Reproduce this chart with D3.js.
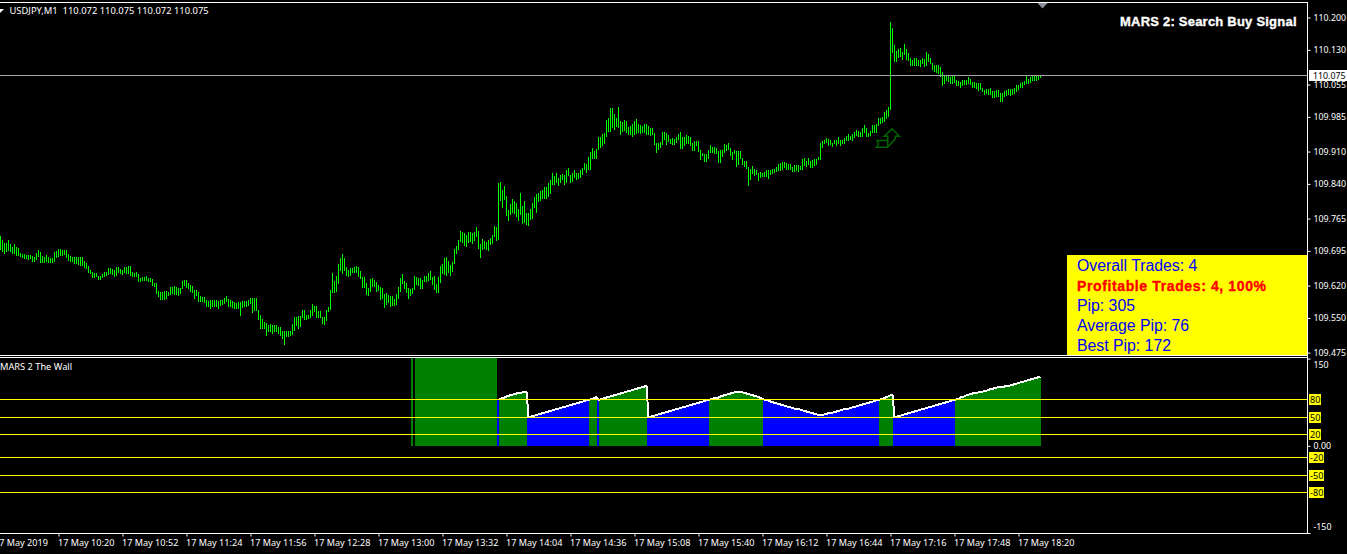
<!DOCTYPE html>
<html><head><meta charset="utf-8">
<script src="https://d3js.org/d3.v7.min.js"></script>
<style>
html,body{margin:0;padding:0;background:#000;overflow:hidden}
svg{display:block}
text{font-family:"Noto Sans",sans-serif;font-size:9.1px;fill:#fff}
.price text{font-size:8.8px}
</style></head><body>
<svg id="c" width="1347" height="554"></svg>
<script>
// Bar highs and lows, in thousandths of a yen above 109, one per minute
const highs=[727,719,713,713,719,710,704,710,703,701,691,689,689,686,686,686,683,681,690,697,692,683,681,686,681,679,679,692,694,699,699,697,697,697,688,684,681,681,681,681,681,681,674,668,663,654,650,647,648,641,641,645,650,650,658,658,655,654,661,661,655,654,661,661,663,663,650,648,650,645,636,638,638,640,637,636,634,625,625,609,607,607,609,609,607,618,618,619,616,614,614,629,632,632,625,622,619,611,611,607,598,595,595,589,586,588,588,589,589,586,589,589,593,598,591,589,586,584,582,584,584,586,587,587,589,593,594,594,593,568,557,548,542,539,535,537,535,535,534,530,530,521,521,521,521,521,537,553,553,555,555,568,568,557,557,568,581,576,576,564,564,553,553,568,573,611,647,629,640,667,679,689,679,661,654,
659,659,661,662,660,651,639,638,626,615,634,636,631,628,621,618,615,601,604,600,598,597,592,602,617,636,645,630,625,615,612,615,641,638,636,636,632,641,641,647,651,638,641,623,638,662,667,680,682,673,664,671,699,706,719,738,736,734,729,736,736,734,736,747,738,710,721,716,714,719,723,729,749,747,842,844,827,835,814,783,796,807,803,799,786,820,792,803,777,777,786,799,812,818,820,825,827,833,833,842,848,863,857,863,853,859,861,859,870,874,859,863,870,863,863,870,874,
886,883,899,910,918,912,915,942,942,948,951,978,982,1004,1004,991,982,1007,976,974,978,976,964,965,969,976,980,969,967,966,969,969,966,962,962,951,929,929,931,953,953,951,946,938,940,938,942,949,953,942,942,946,944,942,929,933,933,933,913,906,905,905,913,924,920,919,917,912,913,913,926,924,928,917,910,913,911,911,912,895,890,890,876,872,879,873,871,863,866,864,866,870,870,870,872,872,877,884,886,887,887,886,883,883,877,881,881,881,879,893,897,889,895,889,892,894,894,899,929,933,935,939,938,936,929,936,936,942,
935,936,939,944,948,944,947,952,957,955,953,962,968,962,951,955,968,968,969,983,982,984,996,1000,1007,1190,1177,1141,1128,1132,1134,1126,1143,1132,1124,1112,1108,1112,1112,1108,1108,1112,1110,1126,1121,1112,1101,1097,1097,1097,1092,1083,1074,1074,1074,1071,1076,1076,1065,1063,1061,1065,1065,1065,1071,1066,1061,1061,1058,1058,1058,1047,1043,1045,1045,1047,1042,1040,1043,1043,1036,1036,1042,1043,1045,1045,1045,1048,1054,1054,1058,1060,1063,1074,1068,1071,1074,1074,1074,1074,1075];
const lows=[699,694,690,694,697,694,690,690,686,686,683,681,679,679,677,679,674,673,677,683,672,672,672,674,672,672,672,674,681,685,686,686,688,681,676,674,673,668,668,666,665,665,661,658,650,647,638,638,640,634,635,638,640,643,645,647,645,640,643,650,647,645,650,648,647,643,641,640,641,629,629,631,631,631,630,629,622,620,605,598,590,590,591,593,600,602,605,602,602,600,604,614,622,618,614,609,607,593,600,586,586,586,584,576,575,571,575,576,575,571,578,581,582,586,576,576,573,571,571,571,557,573,576,575,578,582,562,568,568,547,528,528,528,514,521,521,517,521,521,517,514,506,494,510,511,514,516,523,535,528,532,553,547,547,550,553,557,564,552,553,551,539,537,546,564,569,607,607,609,625,654,647,654,643,641,
643,649,650,650,641,637,616,618,602,600,609,619,619,609,610,591,594,574,580,585,576,578,579,580,593,609,625,614,606,593,600,604,612,623,621,615,615,630,630,632,634,623,612,606,606,628,647,645,643,649,643,651,669,690,699,716,714,708,706,714,716,712,719,727,701,682,699,701,699,697,710,712,727,719,721,805,790,807,773,762,775,779,777,770,762,775,755,757,753,751,764,766,790,779,803,805,809,809,809,814,820,840,840,844,838,844,851,840,844,859,844,846,855,851,853,855,861,
873,866,873,873,895,895,895,915,920,924,928,943,955,955,964,959,965,964,948,955,956,953,948,949,943,949,951,953,951,953,953,948,949,946,948,926,909,915,919,926,938,926,933,928,926,926,931,937,918,918,924,928,929,924,913,913,924,911,894,902,889,889,897,910,910,906,906,888,888,901,908,913,915,902,894,906,879,882,895,883,879,875,837,850,863,859,861,848,855,857,857,857,853,861,864,866,868,870,871,873,876,873,873,873,868,868,870,868,873,873,881,879,884,876,877,881,884,893,894,920,928,931,924,926,922,928,925,928,
924,928,929,934,936,938,936,942,946,944,944,944,953,944,944,946,952,952,953,968,971,973,977,982,986,1001,1126,1105,1105,1115,1117,1110,1121,1110,1108,1097,1097,1097,1097,1097,1095,1101,1094,1097,1105,1101,1089,1085,1083,1081,1074,1054,1058,1065,1063,1059,1059,1061,1054,1054,1050,1054,1056,1056,1058,1056,1049,1049,1047,1043,1045,1040,1035,1036,1034,1034,1029,1029,1031,1030,1019,1019,1030,1032,1034,1032,1034,1036,1042,1045,1050,1050,1056,1059,1059,1061,1065,1065,1065,1066,1071];

const priceTicks=[110.200,110.130,110.055,109.985,109.910,109.840,109.765,109.695,109.620,109.550,109.475];
const currentPrice=110.075;
const headerText="USDJPY,M1  110.072 110.075 110.072 110.075";
const titleText="MARS 2: Search Buy Signal";
const paneTitle="MARS 2 The Wall";
const statLines=["Overall Trades: 4","Profitable Trades: 4, 100%","Pip: 305","Average Pip: 76","Best Pip: 172"];

// "The Wall" indicator, first value belongs to bar 206; values above 150 run off the pane
const wallStart=206;
const wall=[220,null,220,220,220,220,220,220,220,220,220,220,220,220,220,220,220,220,220,220,220,220,220,220,220,220,220,220,220,220,220,220,220,220,220,220,220,220,220,220,220,220,220,
79,81,82,83,85,86,87,88,89,90,91,91,92,93,93,
50,50,51,52,53,54,55,56,57,58,59,60,61,62,63,64,65,66,67,68,69,70,71,72,73,74,75,76,77,78,79,
80,81,82,84,79,
80,81,82,83,84,85,86,87,88,89,90,91,92,93,94,95,96,97,98,99,100,101,102,103,
50,50,51,52,53,54,55,56,57,58,59,60,61,62,63,64,65,66,67,68,69,70,71,72,73,74,75,76,77,78,79,
80,81,82,82,83,85,86,87,88,89,90,91,92,93,93,93,92,91,90,89,88,87,86,85,84,82,81,
79,78,78,76,75,74,73,72,71,70,69,68,67,66,65,64,64,63,62,61,60,59,58,57,56,55,54,53,53,53,54,55,56,57,57,58,59,60,61,62,63,63,64,65,66,67,68,69,70,71,72,73,74,75,76,77,78,79,
80,81,82,84,85,87,87,
50,50,51,52,53,54,55,56,57,58,59,60,61,62,63,64,65,66,67,68,69,70,71,72,73,74,75,76,77,78,79,
80,81,83,84,85,87,88,89,90,90,91,92,93,93,94,95,96,98,98,99,100,101,102,102,102,103,103,104,105,106,107,108,109,110,111,112,113,114,115,116,117,118,119];
const levels=[80,50,20,-20,-50,-80];
const wallThreshold=80;

// time axis: bar index of each label
const timeTickBars=[-3,29,61,93,125,157,189,221,253,285,317,349,381,413,445,477,509];
const timeLabels=["17 May 2019","17 May 10:20","17 May 10:52","17 May 11:24","17 May 11:56","17 May 12:28","17 May 13:00","17 May 13:32","17 May 14:04","17 May 14:36","17 May 15:08","17 May 15:40","17 May 16:12","17 May 16:44","17 May 17:16","17 May 17:48","17 May 18:20"];
const signalBar=444, signalPrice=109.939;

const green="#008000",blue="#0000ff",yellow="#ffff00",lime="#00ff00",frame="#ffffff";
const W=1307.5;
const svg=d3.select("#c");
const x=d3.scaleLinear().domain([0,650]).range([0,1300]);
const yP=d3.scaleLinear().domain([109.475,110.200]).range([352.6,17.5]);
const yW=d3.scaleLinear().domain([-150,150]).range([533,358.6]);

svg.append("defs").append("clipPath").attr("id","wc").append("rect").attr("x",0).attr("y",358).attr("width",W).attr("height",175);

// price bars
svg.append("g").attr("shape-rendering","crispEdges").selectAll("line").data(highs).join("line")
 .attr("x1",(d,i)=>x(i)+.5).attr("x2",(d,i)=>x(i)+.5)
 .attr("y1",d=>yP(109+d/1000)).attr("y2",(d,i)=>yP(109+lows[i]/1000)+1)
 .attr("stroke",lime).attr("stroke-width",1);

// current price
svg.append("line").attr("x1",0).attr("x2",W).attr("y1",Math.round(yP(currentPrice))+.5).attr("y2",Math.round(yP(currentPrice))+.5).attr("stroke","#a0a4a8");

// signal arrow
const glyph=[[4,-9.3],[11.3,-2],[7.3,-2],[7.3,.7],[-.3,9],[-11.7,9],[-9.3,6],[-11,2.3],[-.3,2.3],[-.3,-2],[-3.7,-2]];
const ag=svg.append("g").attr("transform",`translate(${x(signalBar)},${yP(signalPrice)})`);
ag.append("path").attr("d",d3.line()(glyph)+"Z").attr("fill","none").attr("stroke","#006400").attr("stroke-width",1.5);
ag.append("path").attr("d","M-.3,2.3V9").attr("stroke","#006400").attr("stroke-width",1.5);

// wall histogram
const wg=svg.append("g").attr("clip-path","url(#wc)");
wg.selectAll("rect").data(wall).join("rect")
 .attr("x",(d,i)=>x(wallStart+i)-1).attr("width",2)
 .attr("y",d=>d==null?0:yW(Math.min(d,160))).attr("height",d=>d==null?0:yW(0)-yW(Math.min(d,160)))
 .attr("fill",d=>d>=wallThreshold?green:blue).attr("shape-rendering","crispEdges");
wg.append("path").datum(wall).attr("fill","none").attr("stroke","#fff").attr("stroke-width",2).attr("shape-rendering","crispEdges")
 .attr("d",d3.line().defined(d=>d!=null&&d<150).x((d,i)=>x(wallStart+i)+.5).y(d=>yW(d)));

// levels
svg.append("g").selectAll("line").data(levels).join("line").attr("x1",0).attr("x2",W)
 .attr("y1",d=>Math.round(yW(d))+.5).attr("y2",d=>Math.round(yW(d))+.5).attr("stroke",yellow);

// frame
const hl=(y,x0=0,x1=W)=>svg.append("line").attr("x1",x0).attr("x2",x1).attr("y1",y).attr("y2",y).attr("stroke",frame);
hl(2.5);hl(355.5);hl(357.5);hl(533.5);
svg.append("line").attr("x1",W).attr("x2",W).attr("y1",2).attr("y2",534).attr("stroke",frame);

// axes
const fix=g=>{g.select(".domain").remove();g.selectAll("line").attr("stroke","#fff");g.attr("font-size",null).attr("font-family",null);};
const ax=svg.append("g").attr("class","price").attr("transform",`translate(${W},0)`)
 .call(d3.axisRight(yP).tickValues(priceTicks).tickFormat(d3.format(".3f")).tickSize(3).tickPadding(3)).call(fix);

const ax2=svg.append("g").attr("class","price").attr("transform",`translate(${W},0)`)
 .call(d3.axisRight(yW).tickValues([150,0,-150]).tickFormat(d=>d===0?"0.00":d).tickSize(3).tickPadding(3)).call(fix);
ax2.selectAll("text").attr("dy",d=>d===150?"1.05em":d===-150?"-.35em":".32em");

const ax3=svg.append("g").attr("transform","translate(0.5,533.5)")
 .call(d3.axisBottom(x).tickValues(timeTickBars).tickFormat((d,i)=>timeLabels[i]).tickSize(3).tickPadding(3)).call(fix);
ax3.selectAll("text").attr("text-anchor","start").attr("x",-1);

// level labels
const lg=svg.append("g").selectAll("g").data(levels).join("g").attr("transform",d=>`translate(1309,${Math.round(yW(d))})`);
lg.append("rect").attr("x",0).attr("y",-5).attr("height",11).attr("width",d=>d<0?15:12).attr("fill",yellow);
lg.append("text").attr("x",1).attr("y",4).style("fill","#000").text(d=>d);

// current price tag
svg.append("rect").attr("x",1309).attr("y",70).attr("width",38).attr("height",11).attr("fill","#fff");
svg.append("text").attr("x",1313).attr("y",79).style("font-size","8.8px").style("fill","#000").text(d3.format(".3f")(currentPrice));

// header & titles
svg.append("path").attr("d",d3.line()([[0,9],[4,9],[0,13]])+"Z").attr("fill","#fff");
svg.append("text").attr("x",9.5).attr("y",14).style("white-space","pre").style("font-size","9.4px").text(headerText);
svg.append("text").attr("x",0).attr("y",370).style("font-size","9.25px").text(paneTitle);
svg.append("text").attr("x",1120).attr("y",26).style("font-family","'Liberation Sans',Arial").style("font-weight","bold").style("font-size","13px").style("letter-spacing",".22px").style("stroke","#fff").style("stroke-width",".35px").text(titleText);

// triangle marker
svg.append("path").attr("d",d3.line()([[1037.5,3],[1047.5,3],[1042.5,8.5]])+"Z").attr("fill","#8a9099");

// stats box
svg.append("rect").attr("x",1067).attr("y",255).attr("width",240).attr("height",100).attr("fill",yellow);
svg.append("g").selectAll("text").data(statLines).join("text").attr("x",1077).attr("y",(d,i)=>271+i*20)
 .style("font-family","'Liberation Sans',Arial")
 .style("font-size",(d,i)=>i===1?"14px":"15.8px").style("font-weight",(d,i)=>i===1?"bold":"normal")
 .style("letter-spacing",(d,i)=>i===1?".62px":"0")
 .style("stroke",(d,i)=>i===1?"#ff0000":"none").style("stroke-width",".35px")
 .style("fill",(d,i)=>i===1?"#ff0000":"#0000ff").text(d=>d);
</script></body></html>
